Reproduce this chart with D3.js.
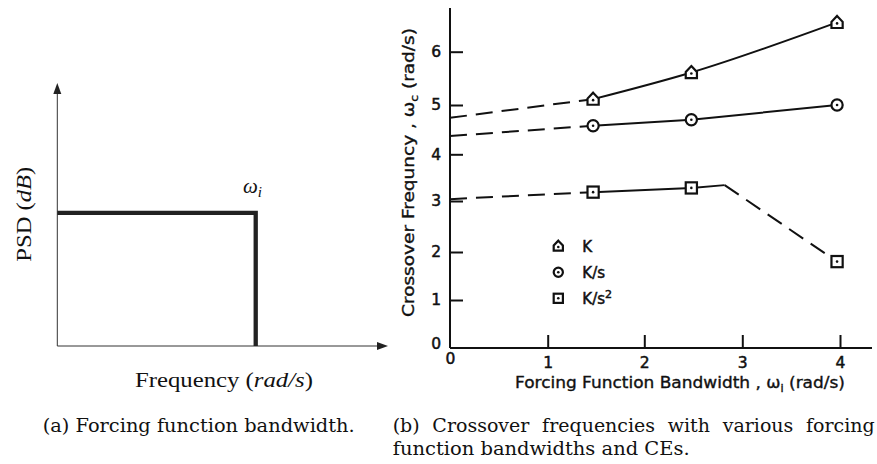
<!DOCTYPE html>
<html><head><meta charset="utf-8">
<script src="https://cdn.jsdelivr.net/npm/d3@7"></script>
<style>body{margin:0;background:#fff} svg{display:block}</style>
</head><body><svg id="c" width="877" height="464"></svg>
<script>
// ---------- data: panel (a) ----------
const psdFreq  = [0, 0.6, 0.6];   // normalised frequency, bandwidth edge at 0.6
const psdLevel = [0.51, 0.51, 0]; // normalised PSD level

// ---------- data: panel (b) ----------
const xTickValues = [0, 1, 2, 3, 4];
const yTickValues = [0, 1, 2, 3, 4, 5, 6];
const bandwidth   = [1.47, 2.48, 3.97];      // forcing function bandwidth (rad/s)
const kValues     = [5.11, 5.61, 6.55];      // K
const ksValues    = [4.58, 4.70, 5.00];      // K/s
const ks2Values   = [3.19, 3.28, 1.80];      // K/s^2
const kExtrap     = [[0, 4.74], [1.47, 5.11]];
const ksExtrap    = [[0, 4.37], [1.47, 4.58]];
const ks2Extrap   = [[0, 3.04], [1.47, 3.19]];
const ks2Solid    = [[1.47, 3.19], [2.48, 3.28], [2.82, 3.34]];
const ks2Drop     = [[2.82, 3.34], [3.97, 1.80]];
const legendLabels = ["K", "K/s", "K/s"];

const svg = d3.select("#c");
const ink = "#111";

// ================= Panel (a) =================
const xa = d3.scaleLinear().domain([0, 1]).range([57.3, 388]);
const ya = d3.scaleLinear().domain([0, 1]).range([346, 85]);
const ga = svg.append("g");
ga.append("line").attr("x1", xa(0)).attr("x2", xa(1) - 8).attr("y1", ya(0)).attr("y2", ya(0))
  .attr("stroke", "#333").attr("stroke-width", 1);
ga.append("line").attr("x1", xa(0)).attr("x2", xa(0)).attr("y1", ya(0)).attr("y2", ya(1) + 8)
  .attr("stroke", "#333").attr("stroke-width", 1);
ga.append("path").attr("d", `M${xa(1)},${ya(0)} L${xa(1)-11},${ya(0)-4} L${xa(1)-11},${ya(0)+4} Z`).attr("fill", "#222");
ga.append("path").attr("d", `M${xa(0)},${ya(1)-2} L${xa(0)-4},${ya(1)+9} L${xa(0)+4},${ya(1)+9} Z`).attr("fill", "#222");
ga.append("path")
  .datum(d3.zip(psdFreq, psdLevel))
  .attr("d", d3.line().x(d => xa(d[0])).y(d => ya(d[1])))
  .attr("fill", "none").attr("stroke", "#222").attr("stroke-width", 4.3)
  .attr("stroke-linejoin", "miter");
// omega_i label
const wi = ga.append("text").attr("x", 243).attr("y", 193.3)
  .attr("font-family", "Liberation Serif, serif").attr("font-size", 21).attr("fill", "#111");
wi.append("tspan").attr("font-style", "italic").text("ω");
wi.append("tspan").attr("font-style", "italic").attr("font-size", 15).attr("dy", 4).text("i");
// x label
const fl = ga.append("text").attr("x", 135).attr("y", 386.7)
  .attr("font-family", "Liberation Serif, serif").attr("font-size", 22).attr("fill", "#111")
  .attr("textLength", 178).attr("lengthAdjust", "spacingAndGlyphs");
fl.append("tspan").text("Frequency (");
fl.append("tspan").attr("font-style", "italic").text("rad/s");
fl.append("tspan").text(")");
// y label
const pl = ga.append("text").attr("transform", "translate(31,261.7) rotate(-90)")
  .attr("font-family", "Liberation Serif, serif").attr("font-size", 22).attr("fill", "#111")
  .attr("textLength", 95).attr("lengthAdjust", "spacingAndGlyphs");
pl.append("tspan").text("PSD (");
pl.append("tspan").attr("font-style", "italic").text("dB");
pl.append("tspan").text(")");

// ================= Panel (b) =================
const x = d3.scaleLinear().domain(xTickValues).range([450, 547.7, 644.3, 742.3, 840]);
const y = d3.scaleLinear().domain(yTickValues).range([348, 300, 252, 201, 154.3, 105, 51.7]);
const gb = svg.append("g");
const sans = "DejaVu Sans, sans-serif";

// axis lines
gb.append("line").attr("x1", x(0)).attr("x2", 872).attr("y1", y(0)).attr("y2", y(0))
  .attr("stroke", ink).attr("stroke-width", 2);
gb.append("line").attr("x1", x(0)).attr("x2", x(0)).attr("y1", y(0)).attr("y2", 8)
  .attr("stroke", ink).attr("stroke-width", 2);

const yAx = gb.append("g").attr("transform", `translate(${x(0)},0)`)
  .call(d3.axisLeft(y).tickValues(yTickValues).tickSizeInner(-13).tickSizeOuter(0).tickPadding(9).tickFormat(d3.format("d")));
const xAx = gb.append("g").attr("transform", `translate(0,${y(0)})`)
  .call(d3.axisBottom(x).tickValues(xTickValues).tickSizeInner(-13).tickSizeOuter(0).tickPadding(9).tickFormat(d3.format("d")));
[yAx, xAx].forEach(a => {
  a.select(".domain").remove();
  a.selectAll(".tick line").attr("stroke", ink).attr("stroke-width", 2);
  a.selectAll(".tick text").attr("font-family", sans).attr("font-size", 15.5).attr("fill", ink)
    .attr("stroke", ink).attr("stroke-width", 0.5);
});
yAx.selectAll(".tick").filter(d => d === 0).select("text").attr("dy", "0.02em");
xAx.selectAll(".tick").filter(d => d === 0).select("text").attr("y", 5);
xAx.selectAll(".tick").filter(d => d === 0).select("line").remove();
yAx.selectAll(".tick").filter(d => d === 0).select("line").remove();

// lines
const line = d3.line().x(d => x(d[0])).y(d => y(d[1]));
const dash = "17,9";
function addPath(pts, dashed, curve) {
  gb.append("path").datum(pts)
    .attr("d", curve ? d3.line().x(d => x(d[0])).y(d => y(d[1])).curve(curve)(pts) : line(pts))
    .attr("fill", "none").attr("stroke", ink).attr("stroke-width", 2)
    .attr("stroke-dasharray", dashed ? dash : null);
}
addPath(kExtrap, true);
addPath(d3.zip(bandwidth, kValues), false, d3.curveMonotoneX);
addPath(ksExtrap, true);
addPath(d3.zip(bandwidth, ksValues), false);
addPath(ks2Extrap, true);
addPath(ks2Solid, false);
addPath(ks2Drop, true);

// markers
function house(s) { return `M0,${-s*1.15} L${s},${-s*0.1} L${s},${s} L${-s},${s} L${-s},${-s*0.1} Z`; }
function drawMarker(g, type, cx, cy, s) {
  const m = g.append("g").attr("transform", `translate(${cx},${cy})`);
  if (type === 0) m.append("path").attr("d", house(s));
  else if (type === 1) m.append("circle").attr("r", s);
  else m.append("rect").attr("x", -s).attr("y", -s).attr("width", 2*s).attr("height", 2*s);
  m.selectAll("path,circle,rect").attr("fill", "#fff").attr("stroke", ink).attr("stroke-width", 2.2);
  m.append("circle").attr("r", 1.3).attr("cy", type === 0 ? 1 : 0).attr("fill", ink);
}
[kValues, ksValues, ks2Values].forEach((vals, t) => {
  bandwidth.forEach((b, i) => drawMarker(gb, t, x(b), y(vals[i]), 5.6));
});

// legend
const legendY = [246, 272.3, 298.3];
legendLabels.forEach((lab, i) => {
  drawMarker(gb, i, 558.3, legendY[i], 4.6);
  const t = gb.append("text").attr("x", 582.3).attr("y", legendY[i] + 5.8)
    .attr("font-family", sans).attr("font-size", 15).attr("fill", ink)
    .attr("stroke", ink).attr("stroke-width", 0.5).text(lab);
  if (i === 2) t.append("tspan").attr("font-size", 11).attr("dy", -6).text("2");
});

// axis titles
const xt = gb.append("text").attr("x", 515).attr("y", 388)
  .attr("font-family", sans).attr("font-size", 15).attr("fill", ink)
  .attr("stroke", ink).attr("stroke-width", 0.35)
  .attr("textLength", 330).attr("lengthAdjust", "spacingAndGlyphs");
xt.append("tspan").text("Forcing Function Bandwidth , ω");
xt.append("tspan").attr("font-size", 10).attr("dy", 4).text("i");
xt.append("tspan").attr("dy", -4).text(" (rad/s)");

const yt = gb.append("text").attr("transform", "translate(414,317) rotate(-90)")
  .attr("font-family", sans).attr("font-size", 15).attr("fill", ink)
  .attr("stroke", ink).attr("stroke-width", 0.35)
  .attr("textLength", 289).attr("lengthAdjust", "spacingAndGlyphs");
yt.append("tspan").text("Crossover Frequncy , ω");
yt.append("tspan").attr("font-size", 10).attr("dy", 4).text("c");
yt.append("tspan").attr("dy", -4).text(" (rad/s)");

// ================= captions =================
const serif = "DejaVu Serif, serif";
svg.append("text").attr("x", 42.7).attr("y", 431.7).attr("font-family", serif).attr("font-size", 19)
  .attr("fill", "#111").attr("textLength", 312).attr("lengthAdjust", "spacingAndGlyphs")
  .text("(a) Forcing function bandwidth.");
const c1 = svg.append("text").attr("x", 392.7).attr("y", 431.7).attr("font-family", serif).attr("font-size", 19)
  .attr("fill", "#111").text("(b) Crossover frequencies with various forcing");
const nat = c1.node().getComputedTextLength();
c1.attr("word-spacing", (482 - nat) / 5);
svg.append("text").attr("x", 392.7).attr("y", 455).attr("font-family", serif).attr("font-size", 19)
  .attr("fill", "#111").attr("textLength", 297).attr("lengthAdjust", "spacingAndGlyphs")
  .text("function bandwidths and CEs.");
</script></body></html>
